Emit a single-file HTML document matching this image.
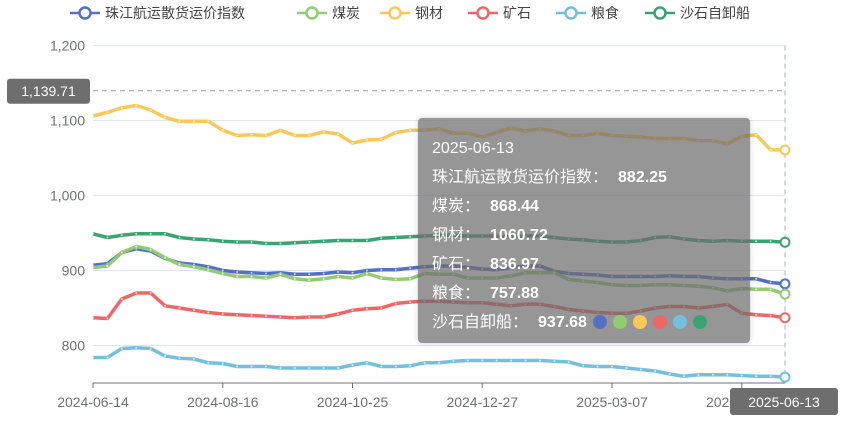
<!DOCTYPE html>
<html><head><meta charset="utf-8"><style>
html,body{margin:0;padding:0;background:#fff;}
#wrap{position:relative;width:849px;height:421px;overflow:hidden;font-family:"Liberation Sans","Noto Sans CJK SC",sans-serif;}
svg{position:absolute;left:0;top:0;}
#tip{position:absolute;left:418px;top:118px;width:332px;height:225px;background:rgba(110,110,110,0.72);border-radius:4px;box-shadow:0 0 6px rgba(0,0,0,0.2);color:#fff;font-size:16px;box-sizing:border-box;padding:16px 0 0 14px;line-height:29px;font-family:"Liberation Sans","Noto Sans CJK SC",sans-serif;}
#tip .v{margin-left:10px;font-weight:bold;}
.dot{display:inline-block;width:14px;height:14px;border-radius:7px;margin-left:6px;vertical-align:-2px;}
</style></head><body>
<div id="wrap">
<svg id="chart" width="849" height="421"></svg>
<div id="tip">
<div>2025-06-13</div>
<div>珠江航运散货运价指数：<span class="v">882.25</span></div>
<div>煤炭：<span class="v">868.44</span></div>
<div>钢材：<span class="v">1060.72</span></div>
<div>矿石：<span class="v">836.97</span></div>
<div>粮食：<span class="v">757.88</span></div>
<div>沙石自卸船：<span class="v">937.68</span><span class="dot" style="background:#5470c6"></span><span class="dot" style="background:#91cc75"></span><span class="dot" style="background:#fac858"></span><span class="dot" style="background:#ee6666"></span><span class="dot" style="background:#73c0de"></span><span class="dot" style="background:#3ba272"></span></div>
</div>
</div>
<script>
const categories=["2024-06-14","2024-06-21","2024-06-28","2024-07-05","2024-07-12","2024-07-19","2024-07-26","2024-08-02","2024-08-09","2024-08-16","2024-08-23","2024-08-30","2024-09-06","2024-09-13","2024-09-20","2024-09-27","2024-10-11","2024-10-18","2024-10-25","2024-11-01","2024-11-08","2024-11-15","2024-11-22","2024-11-29","2024-12-06","2024-12-13","2024-12-20","2024-12-27","2025-01-03","2025-01-10","2025-01-17","2025-01-24","2025-02-07","2025-02-14","2025-02-21","2025-02-28","2025-03-07","2025-03-14","2025-03-21","2025-03-28","2025-04-11","2025-04-18","2025-04-25","2025-05-09","2025-05-16","2025-05-23","2025-05-30","2025-06-06","2025-06-13"];
const seriesNames=["珠江航运散货运价指数","煤炭","钢材","矿石","粮食","沙石自卸船"];
const indexVals=[907,909,924,929,926,916,910,908,905,900,898,897,896,897,895,895,896,898,897,900,901,901,903,905,906,906,904,902,901,904,906,906,899,896,895,894,892,892,892,892,893,892,892,890,889,889,889,884,882.25];
const coalVals=[904,906,924,932,928,917,908,905,901,896,892,892,890,895,889,887,889,892,890,896,890,888,889,896,895,895,890,890,890,893,897,897,897,888,886,884,881,880,880,881,881,880,879,877,873,876,875,875,868.44];
const steelVals=[1106,1111,1117,1120,1114,1104,1099,1099,1099,1087,1080,1081,1080,1087,1080,1080,1085,1082,1070,1074,1075,1084,1087,1087,1089,1083,1083,1078,1084,1090,1086,1089,1086,1080,1080,1083,1080,1079,1078,1076,1076,1076,1073,1073,1069,1079,1081,1061,1060.72];
const oreVals=[837,836,862,870,870,853,850,847,844,842,841,840,839,838,837,838,838,842,847,849,850,856,858,859,859,858,857,857,855,853,855,855,852,848,846,844,843,843,846,850,852,852,850,852,855,843,841,840,836.97];
const grainVals=[784,784,796,797,796,786,783,782,777,776,772,772,772,770,770,770,770,770,774,777,772,772,773,777,777,779,780,780,780,780,780,780,779,778,773,772,772,770,768,766,762,759,761,761,761,760,759,759,757.88];
const sandVals=[949,944,947,949,949,949,944,942,941,939,938,938,936,936,937,938,939,940,940,940,943,944,945,946,947,947,946,946,946,945,946,946,944,942,941,939,938,938,940,944,945,942,940,939,940,939,939,939,937.68];
const yTicks=[800,900,1000,1100,1200];
const yTickLabels=["800","900","1,000","1,100","1,200"];
const pointerValue=1139.71;

const colors=["#5470c6","#91cc75","#fac858","#ee6666","#73c0de","#3ba272"];
const allSeries=[indexVals,coalVals,steelVals,oreVals,grainVals,sandVals];
const X0=93,X1=785,Y800=345.5,PX=0.75,YMIN=750,YMAX=1200;
function xs(i){return X0+(X1-X0)*i/(categories.length-1);}
function ys(v){return Y800-(v-800)*PX;}
const NS="http://www.w3.org/2000/svg";
const svg=document.getElementById('chart');
function mk(tag,attrs,parent){const e=document.createElementNS(NS,tag);for(const k in attrs)e.setAttribute(k,attrs[k]);(parent||svg).appendChild(e);return e;}

// grid + y labels
yTicks.forEach((t,i)=>{
  const g=mk('line',{x1:X0,x2:X1,y1:ys(t),y2:ys(t),stroke:'#e0e6f1','stroke-width':1});
  
  
  const tx=mk('text',{x:85,y:ys(t)+5,'text-anchor':'end','font-size':14,fill:'#6e7079'});
  tx.textContent=yTickLabels[i];
  
  
});
// x axis
const ax=mk('line',{x1:X0,x2:X1,y1:ys(YMIN),y2:ys(YMIN),stroke:'#6e7079','stroke-width':1});


for(let i=0;i<categories.length;i+=9){
  const tk=mk('line',{x1:xs(i),x2:xs(i),y1:ys(YMIN),y2:ys(YMIN)+5,stroke:'#6e7079'});
  
  
  const tx=mk('text',{x:xs(i),y:ys(YMIN)+24,'text-anchor':'middle','font-size':14,fill:'#6e7079'});
  tx.textContent=categories[i];
  
  
}
// crosshair
const last=categories.length-1;
const vl=mk('line',{x1:xs(last),x2:xs(last),y1:ys(YMAX),y2:ys(YMIN),stroke:'#aab0bf','stroke-dasharray':'5,4'});


const hl=mk('line',{x1:X0,x2:X1,y1:ys(pointerValue),y2:ys(pointerValue),stroke:'#999','stroke-dasharray':'5,4'});


// series
allSeries.forEach((vals,s)=>{
  const d=vals.map((v,i)=>(i?'L':'M')+xs(i).toFixed(1)+','+ys(v).toFixed(1)).join('');
  const p=mk('path',{d:d,fill:'none',stroke:colors[s],'stroke-width':3.5,'stroke-linejoin':'round'});
  
  
  vals.forEach((v,i)=>{
    if(i===last){
      const c=mk('circle',{cx:xs(i),cy:ys(v),r:4.5,fill:'#fff',stroke:colors[s],'stroke-width':2});
      
      
    }else{
      const c=mk('circle',{cx:xs(i),cy:ys(v),r:1,fill:'#fff','fill-opacity':0.7});
      
      
    }
  });
});
// pointer labels
const yl=mk('rect',{x:7,y:ys(pointerValue)-12,width:83,height:25,rx:3,fill:'#6e6e6e'});


const ylt=mk('text',{x:48.5,y:ys(pointerValue)+5.5,'text-anchor':'middle','font-size':14,fill:'#fff'});
ylt.textContent=pointerValue.toLocaleString('en-US');


const xl=mk('rect',{x:xs(last)-55,y:ys(YMIN)+5,width:108,height:27,rx:3,fill:'#6e6e6e'});


const xlt=mk('text',{x:xs(last)-1,y:ys(YMIN)+24,'text-anchor':'middle','font-size':14,fill:'#fff'});
xlt.textContent=categories[last];


// legend
const legX=[70,297,380,468,556,645];
seriesNames.forEach((n,s)=>{
  const g=mk('g',{});
  
  
  mk('line',{x1:legX[s],x2:legX[s]+30,y1:13,y2:13,stroke:colors[s],'stroke-width':2.5},g);
  mk('circle',{cx:legX[s]+15,cy:13,r:5.5,fill:'#fff',stroke:colors[s],'stroke-width':2.5},g);
  const t=mk('text',{x:legX[s]+35,y:18,'font-size':14,fill:'#444'},g);
  t.textContent=n;
});
</script>
</body></html>
